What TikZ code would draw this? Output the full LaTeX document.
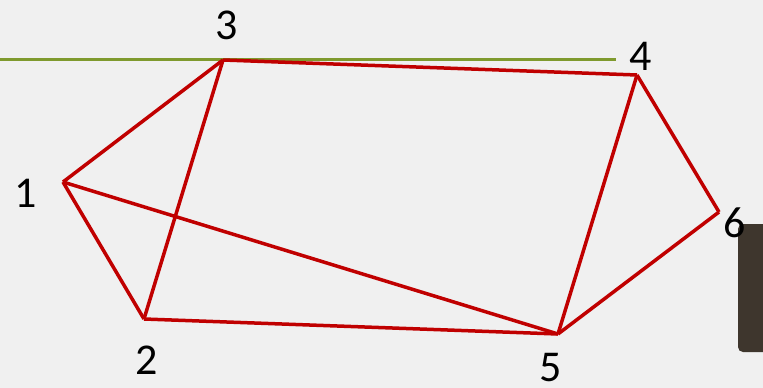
\documentclass[tikz,border=0pt]{standalone}
\usepackage{fontspec}
\setmainfont{Carlito}
\usetikzlibrary{positioning}
\definecolor{bgpaper}{HTML}{F0F0F0}
\definecolor{edgered}{HTML}{C00000}
\definecolor{lineolive}{HTML}{7F9A2E}
\definecolor{postbrown}{HTML}{3E362D}
\tikzstyle{vertex} = [
    circle,
    inner sep=0pt,
    minimum size=0pt
]
\tikzstyle{numlabel} = [
    inner sep=0pt,
    font=\fontsize{44}{44}\selectfont
]
\tikzstyle{link} = [
    draw=edgered,
    line width=3.5pt,
    line join=miter
]
\tikzstyle{guide} = [draw=lineolive, line width=3pt]

\begin{document}
\begin{tikzpicture}[x=1pt, y=-1pt]

\fill [bgpaper] (0,0) rectangle (763,388);
\useasboundingbox (0,0) rectangle (763,388);

% dark post at the right edge
\fill [postbrown, rounded corners=5pt] (738,224) rectangle (770,352);

% olive guide line
\coordinate (gleft) at (0,59);
\coordinate (gright) at (616,59);
\draw [guide] (gleft) -- (gright);

% vertices
\node (v1) [vertex] at (63,182) {};
\node (v2) [vertex] at (144,319) {};
\node (v3) [vertex] at (223,60) {};
\node (v4) [vertex] at (637,75) {};
\node (v5) [vertex] at (558,334) {};
\node (v6) [vertex] at (719,212) {};

% labels
\node (l1) [numlabel] at (26,193) {1};
\node (l2) [numlabel] at (147,360) {2};
\node (l3) [numlabel] at (227,25) {3};
\node (l4) [numlabel] at (641,56) {4};
\node (l5) [numlabel] at (551,368) {5};
\node (l6) [numlabel] at (735,223) {6};

% edges
\draw [link] (v1.center) -- (v3.center);
\draw [link] (v1.center) -- (v2.center);
\draw [link] (v1.center) -- (v5.center);
\draw [link] (v3.center) -- (v2.center);
\draw [link] (v3.center) -- (v4.center);
\draw [link] (v2.center) -- (v5.center);
\draw [link] (v4.center) -- (v5.center);
\draw [link] (v4.center) -- (v6.center);
\draw [link] (v6.center) -- (v5.center);

\end{tikzpicture}
\end{document}
